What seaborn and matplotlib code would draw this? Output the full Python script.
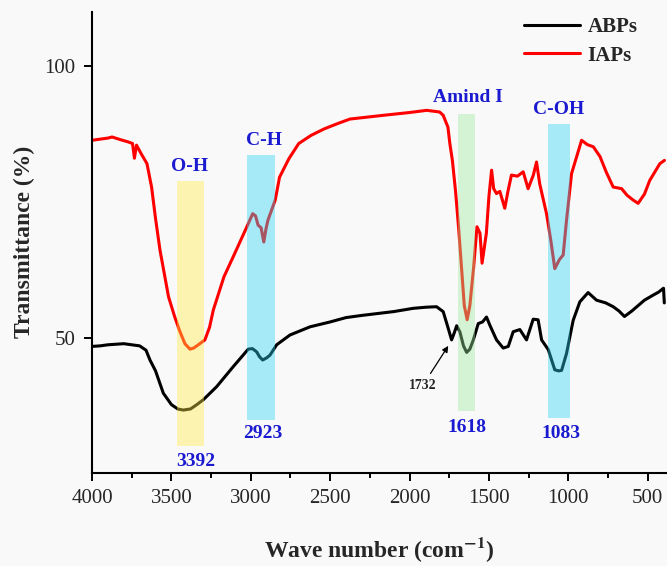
import pandas as pd
import seaborn as sns
import matplotlib.pyplot as plt

# FTIR spectra
wn_abps = [4000, 3950, 3900, 3850, 3800, 3750, 3700, 3660, 3635, 3600, 3551, 3500, 3460,
           3425, 3380, 3340, 3299, 3215, 3110, 3060, 3016, 2990, 2963, 2945, 2925, 2900,
           2879, 2837, 2753, 2627, 2500, 2400, 2300, 2186, 2100, 1977, 1900, 1830, 1788,
           1756, 1735, 1718, 1703, 1683, 1660, 1640, 1620, 1598, 1567, 1540, 1515, 1494,
           1452, 1410, 1378, 1347, 1305, 1263, 1221, 1190, 1168, 1126, 1085, 1060, 1042,
           1011, 969, 927, 875, 822, 764, 717, 680, 646, 600, 560, 520, 467, 430, 400, 395]
t_abps = [48.5, 48.6, 48.8, 48.9, 49.0, 48.8, 48.6, 47.8, 46.0, 44.0, 39.9, 37.8, 37.0,
          36.8, 37.0, 37.8, 38.7, 41.1, 44.8, 46.5, 48.0, 48.1, 47.5, 46.6, 46.0, 46.4,
          46.9, 48.8, 50.6, 52.1, 53.0, 53.8, 54.2, 54.6, 54.9, 55.5, 55.7, 55.8, 54.9,
          51.8, 49.7, 51.0, 52.3, 51.2, 48.6, 47.4, 48.0, 49.7, 52.7, 53.0, 53.9, 52.4,
          49.7, 48.2, 48.5, 51.2, 51.6, 49.7, 53.5, 53.4, 49.7, 47.9, 44.2, 44.0, 44.1,
          47.2, 53.3, 56.7, 58.4, 57.0, 56.5, 55.8, 55.0, 54.0, 55.0, 56.0, 57.0, 57.9, 58.5, 59.2, 56.5]

wn_iaps = [4000, 3950, 3900, 3874, 3820, 3773, 3745, 3733, 3720, 3692, 3654, 3625, 3600,
           3572, 3518, 3480, 3450, 3415, 3383, 3360, 3340, 3289, 3260, 3236, 3169, 3101,
           3034, 2988, 2970, 2954, 2935, 2918, 2905, 2892, 2846, 2819, 2760, 2698, 2620,
           2537, 2450, 2375, 2161, 2000, 1892, 1811, 1788, 1758, 1746, 1730, 1710, 1690,
           1670, 1655, 1637, 1620, 1596, 1575, 1556, 1543, 1516, 1500, 1483, 1470, 1452,
           1431, 1400, 1380, 1358, 1320, 1284, 1253, 1220, 1200, 1180, 1137, 1110, 1085,
           1055, 1032, 1011, 979, 916, 880, 842, 800, 760, 717, 664, 630, 591, 560, 520,
           487, 423, 394]
t_iaps = [86.4, 86.6, 86.8, 87.0, 86.5, 86.1, 85.8, 83.1, 85.5, 84.0, 82.1, 77.8, 72.0,
          66.2, 57.6, 54.0, 51.5, 49.0, 48.0, 48.2, 48.6, 49.7, 52.0, 55.2, 61.3, 65.6,
          69.9, 72.9, 72.5, 70.8, 70.3, 67.7, 70.0, 71.7, 75.4, 79.6, 83.0, 85.8, 87.3,
          88.5, 89.5, 90.3, 91.0, 91.5, 91.9, 91.6, 91.0, 88.8, 85.8, 82.7, 77.0, 70.0,
          62.0, 56.0, 53.4, 56.0, 63.1, 70.5, 69.3, 63.8, 69.3, 76.0, 80.9, 77.5, 76.6,
          77.0, 73.9, 77.0, 80.0, 79.8, 80.6, 77.5, 80.0, 82.4, 78.4, 72.9, 68.0, 62.8,
          64.5, 65.3, 71.7, 80.3, 86.4, 85.6, 85.2, 83.4, 80.5, 77.8, 77.5, 76.3, 75.4,
          74.8, 76.5, 79.0, 82.1, 82.7]

# highlighted bands: (high wn, low wn, bottom, top)
band_names = ["O-H", "C-H", "Amind I", "C-OH"]
band_peaks = ["3392", "2923", "1618", "1083"]
band_ranges = [(3463, 3293, 30.2, 78.9), (3022, 2847, 35.0, 83.6),
               (1693, 1588, 36.7, 91.3), (1130, 990, 35.4, 89.3)]
band_colors = ["#ffea42", "#2ad3f6", "#9de89d", "#2ad3f6"]
name_pos = [(3383, 80.0), (2917, 84.8), (1634, 92.7), (1059, 90.4)]
peak_pos = [(3345, 27.4), (2926, 32.4), (1638, 33.6), (1048, 32.4)]

df = pd.concat([
    pd.DataFrame({"wn": wn_abps, "T": t_abps, "sample": "ABPs"}),
    pd.DataFrame({"wn": wn_iaps, "T": t_iaps, "sample": "IAPs"}),
])

sns.set_style("ticks")
plt.rcParams["font.family"] = ["Liberation Serif", "DejaVu Serif"]
plt.rcParams["mathtext.fontset"] = "stix"

bg = "#f9f9f9"
fig = plt.figure(figsize=(6.67, 5.66), dpi=100, facecolor=bg)
ax = fig.add_axes([0.138, 0.165, 0.862, 0.814], facecolor=bg)

sns.lineplot(data=df, x="wn", y="T", hue="sample", palette=["black", "red"],
             sort=False, estimator=None, lw=2.2, ax=ax)

blue = "#1a1ad0"
for name, peak, (hi, lo, y0, y1), c, npos, ppos in zip(
        band_names, band_peaks, band_ranges, band_colors, name_pos, peak_pos):
    ax.fill_between([hi, lo], y0, y1, color=c, alpha=0.4, lw=0, zorder=3)
    ax.text(npos[0], npos[1], name, ha="center", va="bottom", color=blue,
            fontsize=14, fontweight="bold")
    ax.text(ppos[0], ppos[1], peak, ha="center", va="center", color=blue,
            fontsize=14, fontweight="bold")

ax.annotate("1732", xy=(1756, 48.6), xytext=(1917, 41.3), ha="center", va="center",
            fontsize=10, fontweight="bold",
            arrowprops=dict(arrowstyle="-|>", color="black", lw=0.9,
                            mutation_scale=9, shrinkA=2, shrinkB=0))

ax.set_xlim(4000, 378)
ax.set_ylim(25.3, 110)
ax.set_xticks(range(4000, 499, -500))
ax.set_xticks(range(3750, 499, -500), minor=True)
ax.set_yticks([50, 100])
ax.tick_params(axis="both", which="major", length=6, width=1.4, pad=6,
               labelsize=15, color="black")
ax.tick_params(axis="x", which="minor", length=3.5, width=1.4, color="black")
for s in ["left", "bottom"]:
    ax.spines[s].set_linewidth(1.5)
    ax.spines[s].set_color("black")
sns.despine(ax=ax)

ax.set_xlabel(r"Wave number (com$^{\mathbf{-1}}$)", fontsize=17,
              fontweight="bold", labelpad=19)
ax.set_ylabel("Transmittance (%)", fontsize=17, fontweight="bold", labelpad=7)

ax.legend(loc="upper left", bbox_to_anchor=(0.737, 1.006), frameon=False,
          prop={"size": 15, "weight": "bold"}, handlelength=2.7,
          handletextpad=0.35, labelspacing=0.4, borderaxespad=0)

fig.savefig("out.png", dpi=100, facecolor=bg)
